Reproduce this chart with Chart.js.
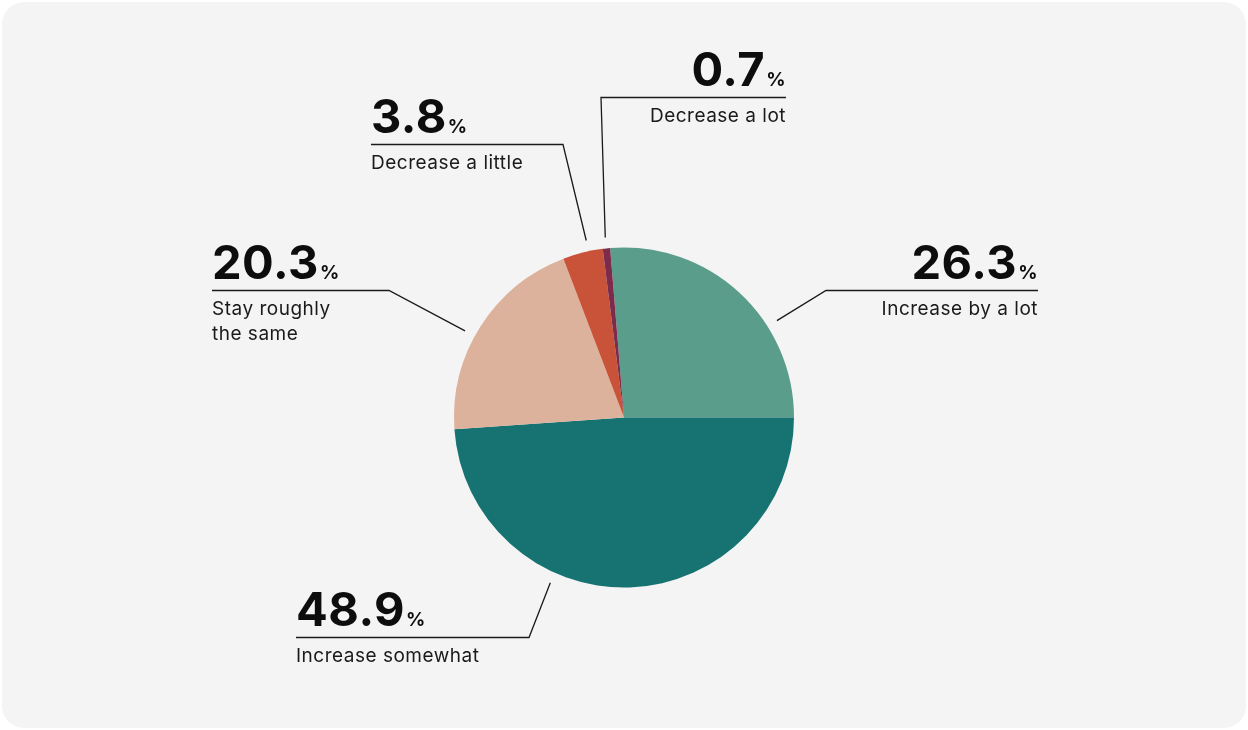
<!DOCTYPE html>
<html>
<head>
<meta charset="utf-8">
<script src="https://cdn.jsdelivr.net/npm/chart.js@4.4.1/dist/chart.umd.min.js"></script>
<style>
  html, body { margin: 0; padding: 0; background: #fff; }
  #wrap { position: relative; width: 1248px; height: 730px; }
  #card { position: absolute; left: 2px; top: 2px; width: 1244px; height: 726px; border-radius: 22px; background: #f4f4f4; }
  #chart { position: absolute; left: 0; top: 0; }
</style>
</head>
<body>
<div id="wrap">
  <div id="card"></div>
  <canvas id="chart" width="1248" height="730"></canvas>
</div>
<script>
// answers, in the order the slices are drawn (clockwise)
const labels = [['Increase by a lot'], ['Increase somewhat'], ['Stay roughly', 'the same'], ['Decrease a little'], ['Decrease a lot']];
const shares = [26.3, 48.9, 20.3, 3.8, 0.7];
const colors = ['#5a9d8b', '#177272', '#ddb29c', '#c85338', '#7d2b4a'];

// leader line layout: angle nudge (deg), elbow offset from pie centre, x of the line end
const callouts = [
    { shift: 15, elbow: [202, -127], end: 414 },
    { shift: 26, elbow: [-95, 220], end: -328 },
    { shift: -4, elbow: [-235, -127], end: -412 },
    { shift: 2, elbow: [-61, -273], end: -253 },
    { shift: 0, elbow: [-23, -320], end: 162 }
];

const FONT = 'Inter, "Open Sans", sans-serif';

const calloutPlugin = {
    id: 'callouts',
    afterDatasetsDraw(chart) {
        const ctx = chart.ctx;
        chart.getDatasetMeta(0).data.forEach((arc, i) => {
            const p = arc.getProps(['x', 'y', 'startAngle', 'endAngle', 'outerRadius'], true);
            const c = callouts[i];
            const a = (p.startAngle + p.endAngle) / 2 + c.shift * Math.PI / 180;
            const ax = p.x + Math.cos(a) * (p.outerRadius + 11);
            const ay = p.y + Math.sin(a) * (p.outerRadius + 11);
            const ex = p.x + c.elbow[0];
            const ey = p.y + c.elbow[1];
            const lx = p.x + c.end;
            const right = lx > ex;

            ctx.save();
            ctx.strokeStyle = '#1a1a1a';
            ctx.lineWidth = 1.3;
            ctx.beginPath();
            ctx.moveTo(ax, ay);
            ctx.lineTo(ex, ey);
            ctx.lineTo(lx, ey);
            ctx.stroke();

            // big number with a small % after it
            const num = shares[i].toFixed(1);
            ctx.fillStyle = '#0d0d0d';
            ctx.textBaseline = 'alphabetic';
            ctx.textAlign = 'left';
            ctx.letterSpacing = '0.5px';
            ctx.font = '700 47px ' + FONT;
            const nw = ctx.measureText(num).width;
            ctx.font = '700 19px ' + FONT;
            const pw = ctx.measureText('%').width;
            const gap = 1;
            const x0 = right ? lx - (nw + gap + pw) : lx;
            ctx.font = '700 47px ' + FONT;
            ctx.fillText(num, x0, ey - 12);
            ctx.font = '700 19px ' + FONT;
            ctx.fillText('%', x0 + nw + gap, ey - 12);

            ctx.font = '400 19px ' + FONT;
            ctx.fillStyle = '#1a1a1a';
            ctx.textAlign = right ? 'right' : 'left';
            labels[i].forEach((t, k) => ctx.fillText(t, lx, ey + 24 + k * 25));
            ctx.restore();
        });
    }
};

const total = shares.reduce((s, v) => s + v, 0);

new Chart(document.getElementById('chart'), {
    type: 'pie',
    data: {
        labels: labels.map(l => l.join(' ')),
        datasets: [{
            data: shares,
            backgroundColor: colors,
            borderWidth: 0,
            hoverOffset: 0
        }]
    },
    options: {
        responsive: false,
        animation: false,
        // first slice ends exactly at 3 o'clock
        rotation: 90 - shares[0] / total * 360,
        layout: { padding: { left: 454, right: 454, top: 247, bottom: 142 } },
        plugins: {
            legend: { display: false },
            tooltip: { enabled: false }
        }
    },
    plugins: [calloutPlugin]
});
</script>
</body>
</html>
